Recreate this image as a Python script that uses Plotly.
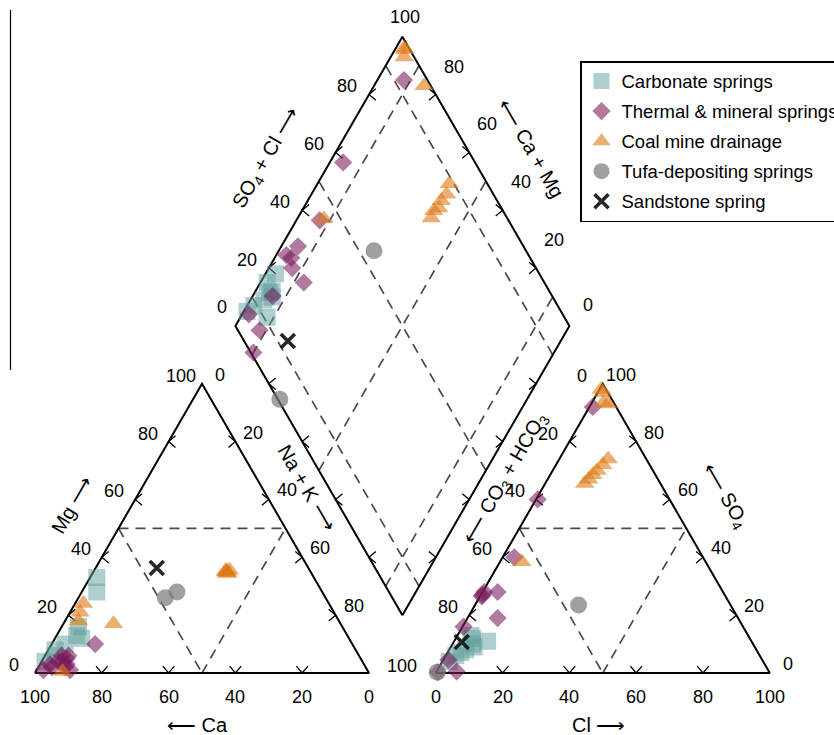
import numpy as np
import plotly.graph_objects as go

# ---------------- data: percent of meq/L ----------------
# Carbonate springs
carb_Ca   = [65, 67.5, 79, 81, 86, 90, 91, 80, 95]
carb_Mg   = [33, 28, 16, 13, 10, 8, 6, 12, 4]
carb_NaK  = [2, 4.5, 5, 6, 4, 2, 3, 8, 1]
carb_HCO3 = [83, 84, 83, 84, 87, 91, 79, 89, 94]
carb_SO4  = [12, 10, 13, 9, 8, 6, 11, 7, 4]
carb_Cl   = [5, 6, 4, 7, 5, 3, 10, 4, 2]

# Thermal & mineral springs
therm_Ca   = [89, 94, 88, 91, 89, 94, 87, 77, 90, 97, 90, 89]
therm_Mg   = [3, 2, 5, 4, 6, 3, 6, 10, 4, 1, 2, 1]
therm_NaK  = [8, 4, 7, 5, 5, 3, 7, 13, 6, 2, 8, 10]
therm_HCO3 = [7, 39.5, 56.5, 71.5, 67.5, 72.5, 73, 72, 83.7, 94, 93.5, 99.2]
therm_SO4  = [92, 60, 40, 28, 28, 27, 26.5, 19, 16, 4.5, 0.5, 0.3]
therm_Cl   = [1, 0.5, 3.5, 0.5, 4.5, 0.5, 0.5, 9, 0.3, 1.5, 6, 0.5]

# Coal mine drainage
coal_Ca   = [25.5, 25.5, 24, 25, 25, 25, 73.5, 76, 78, 68, 91.5]
coal_Mg   = [34.5, 35, 35.5, 35, 34.5, 35.5, 24, 21, 18, 17, 0.5]
coal_NaK  = [40, 39.5, 40.5, 40, 40.5, 39.5, 2.5, 3, 4, 15, 8]
coal_HCO3 = [22.7, 20.7, 18.7, 16.7, 14, 11.4, 1.5, 1.5, 3, 2, 55]
coal_SO4  = [65.5, 67, 68.5, 70, 72, 74, 98, 97, 93.5, 93, 38.5]
coal_Cl   = [11.8, 12.3, 12.8, 13.3, 14, 14.6, 0.5, 1.5, 3.5, 5, 6.5]

# Tufa-depositing springs
tufa_Ca   = [43.5, 48]
tufa_Mg   = [28, 26]
tufa_NaK  = [28.5, 26]
tufa_HCO3 = [45.5, 99.4]
tufa_SO4  = [23.5, 0.3]
tufa_Cl   = [31, 0.3]

# Sandstone spring
sand_Ca   = [45.4]
sand_Mg   = [36.3]
sand_NaK  = [18.3]
sand_HCO3 = [86.9]
sand_SO4  = [10.7]
sand_Cl   = [2.4]

tick_values = [0, 20, 40, 60, 80, 100]

# ---------------- geometry ----------------
W, H = 834, 735          # visible window
WF = 870                 # figure is a bit wider so the legend can run off the right edge
S = 3.34                 # px per percent unit
OX, OY = 35.0, 673.0
GAP = 20.0
H3 = np.sqrt(3) / 2
FONT = "Liberation Sans, Arial, Helvetica, sans-serif"


def PX(x, y):
    return OX + S * x, OY - S * y


def U(px, py):
    return (px - OX) / S, (OY - py) / S


def cat_xy(mg, nak):
    mg = np.asarray(mg, float); nak = np.asarray(nak, float)
    return nak + 0.5 * mg, H3 * mg


def an_xy(so4, cl):
    so4 = np.asarray(so4, float); cl = np.asarray(cl, float)
    return 100 + GAP + cl + 0.5 * so4, H3 * so4


BX, BY = 100 + GAP / 2, GAP * H3


def dia_xy(nak, so4, cl):
    c = 100 - np.asarray(nak, float)
    s = np.asarray(so4, float) + np.asarray(cl, float)
    return BX + 0.5 * (s - c), BY + H3 * (s + c)


fig = go.Figure()


def add_lines(segs, color, width, dash=None):
    xs, ys = [], []
    for seg in segs:
        for (x, y) in seg:
            xs.append(x); ys.append(y)
        xs.append(None); ys.append(None)
    fig.add_trace(go.Scatter(x=xs, y=ys, mode="lines", hoverinfo="skip",
                             showlegend=False,
                             line=dict(color=color, width=width, dash=dash)))


T = 100 * H3
frames = [
    [(0, 0), (100, 0), (50, T), (0, 0)],
    [(120, 0), (220, 0), (170, T), (120, 0)],
    [(BX, BY), (BX + 50, BY + T), (BX, BY + 2 * T), (BX - 50, BY + T), (BX, BY)],
]
dashed = [
    [(25, T / 2), (75, T / 2)], [(25, T / 2), (50, 0)], [(50, 0), (75, T / 2)],
    [(145, T / 2), (195, T / 2)], [(145, T / 2), (170, 0)], [(170, 0), (195, T / 2)],
]
for k in (10, 50, 90):
    dashed.append([(BX + 0.5 * k, BY + H3 * k), (BX + 0.5 * (k - 100), BY + H3 * (k + 100))])
    dashed.append([(BX - 0.5 * k, BY + H3 * k), (BX + 0.5 * (100 - k), BY + H3 * (100 + k))])
add_lines(dashed, "#4a4a4a", 1.7, dash="10px,7px")
add_lines(frames, "black", 2)

L, TH = 9.0, np.radians(40)


def chevron(pt, d):
    px, py = PX(*pt)
    dx, dy = d
    arms = []
    for sgn in (1, -1):
        c, s_ = np.cos(sgn * TH), np.sin(sgn * TH)
        rx = -(dx * c - dy * s_)
        ry = -(dx * s_ + dy * c)
        arms.append(U(px + L * rx, py + L * ry))
    return [arms[0], pt, arms[1]]


chev = []
for k in (20, 40, 60, 80):
    chev.append(chevron((k, 0), (0, 1)))
    chev.append(chevron((120 + k, 0), (0, 1)))
    chev.append(chevron((0.5 * k, H3 * k), (-1, 0)))
    chev.append(chevron((50 + 0.5 * k, H3 * (100 - k)), (1, 0)))
    chev.append(chevron((120 + 0.5 * k, H3 * k), (-1, 0)))
    chev.append(chevron((170 + 0.5 * k, H3 * (100 - k)), (1, 0)))
    chev.append(chevron((BX - 50 + 0.5 * k, BY + T + H3 * k), (-1, 0)))
    chev.append(chevron((BX + 0.5 * k, BY + 2 * T - H3 * k), (1, 0)))
    chev.append(chevron((BX - 50 + 0.5 * k, BY + T - H3 * k), (-1, 0)))
    chev.append(chevron((BX + 0.5 * k, BY + H3 * k), (1, 0)))
add_lines(chev, "black", 1.3)

# ---------------- samples ----------------
groups = [
    ("Carbonate springs", carb_Mg, carb_NaK, carb_SO4, carb_Cl,
     dict(symbol="square", size=17, color="rgba(95,160,160,0.5)")),
    ("Thermal & mineral springs", therm_Mg, therm_NaK, therm_SO4, therm_Cl,
     dict(symbol="diamond", size=14, color="rgba(120,25,90,0.58)")),
    ("Coal mine drainage", coal_Mg, coal_NaK, coal_SO4, coal_Cl,
     dict(symbol="triangle-up", size=17, color="rgba(222,122,20,0.6)")),
    ("Tufa-depositing springs", tufa_Mg, tufa_NaK, tufa_SO4, tufa_Cl,
     dict(symbol="circle", size=17, color="rgba(120,120,120,0.7)")),
    ("Sandstone spring", sand_Mg, sand_NaK, sand_SO4, sand_Cl,
     dict(symbol="x-thin", size=14, color="rgba(15,15,15,0.9)",
          line=dict(width=3.6, color="rgba(15,15,15,0.9)"))),
]
for i, (name, mg, nak, so4, cl, mk) in enumerate(groups):
    cx, cy = cat_xy(mg, nak)
    ax, ay = an_xy(so4, cl)
    dx, dy = dia_xy(nak, so4, cl)
    m = dict(mk)
    if "line" not in m:
        m["line"] = dict(width=0)
    fig.add_trace(go.Scatter(
        x=np.concatenate([cx, ax, dx]), y=np.concatenate([cy, ay, dy]),
        mode="markers", name=name, marker=m, legendgroup=f"g{i}",
        hoverinfo="skip"))

# ---------------- text ----------------
anns = []


def ann(px, py, text, size=18, angle=0):
    x, y = U(px, py)
    anns.append(dict(x=x, y=y, xref="x", yref="y", text=text, showarrow=False,
                     textangle=angle, xanchor="center", yanchor="middle",
                     font=dict(size=size, color="black", family=FONT)))


for v in tick_values:
    px, py = PX(100 - v, 0); ann(px, py + 24, str(v))
    px, py = PX(120 + v, 0); ann(px, py + 24, str(v))
    px, py = PX(0.5 * v, H3 * v); ann(px - 21, py - 8, str(v))
    px, py = PX(220 - 0.5 * v, H3 * v); ann(px + 18, py - 9, str(v))
for v in tick_values[:-1]:
    px, py = PX(50 + 0.5 * v, H3 * (100 - v)); ann(px + 18, py - 9, str(v))
    px, py = PX(120 + 0.5 * (100 - v), H3 * (100 - v)); ann(px - 21, py - 8, str(v))
px, py = PX(110, 0); ann(px, py - 7, "100")
for v in (20, 40, 60, 80):
    px, py = PX(BX - 50 + 0.5 * v, BY + T + H3 * v); ann(px - 22, py - 8.5, str(v))
    px, py = PX(BX + 50 - 0.5 * v, BY + T + H3 * v); ann(px + 18, py - 28, str(v))
px, py = PX(BX - 50, BY + T); ann(px - 13, py - 19, "0")
px, py = PX(BX + 50, BY + T); ann(px + 19, py - 21, "0")
px, py = PX(BX, BY + 2 * T); ann(px + 3, py - 20, "100")

ann(72, 505, "Mg \u27f6", 20, -60)
ann(266, 158, "SO<sub>4</sub> + Cl \u27f6", 20, -60)
ann(531, 148, "\u27f5 Ca + Mg", 20, 60)
ann(307, 488, "Na + K \u27f6", 20, 60)
ann(505, 478, "\u27f5 CO<sub>3</sub> + HCO<sub>3</sub>", 20, -60)
ann(725, 495, "\u27f5 SO<sub>4</sub>", 20, 60)
ann(197, 725, "\u27f5 Ca", 20)
ann(598, 725, "Cl \u27f6", 20)

x0, y1 = U(0, 0)
x1, y0 = U(WF, H)
fig.update_layout(
    width=WF, height=H, margin=dict(l=0, r=0, t=0, b=0),
    paper_bgcolor="white", plot_bgcolor="white",
    xaxis=dict(range=[x0, x1], visible=False, fixedrange=True),
    yaxis=dict(range=[y0, y1], visible=False, fixedrange=True),
    annotations=anns, hovermode=False,
    font=dict(family=FONT, size=18, color="black"),
    legend=dict(x=580 / WF, y=1 - 61 / H, xanchor="left", yanchor="top",
                bordercolor="black", borderwidth=1.5, bgcolor="white",
                font=dict(size=18.5, family=FONT, color="black"),
                traceorder="grouped", tracegroupgap=3, itemsizing="trace"),
    shapes=[dict(type="line", xref="paper", yref="paper", x0=10.5 / WF, x1=10.5 / WF,
                 y0=1 - 10 / H, y1=1 - 370 / H, line=dict(color="black", width=1.2))],
)

fig.write_html("out.html", config={"displayModeBar": False},
               post_script="document.body.style.margin='0px';document.body.style.overflow='hidden';")
